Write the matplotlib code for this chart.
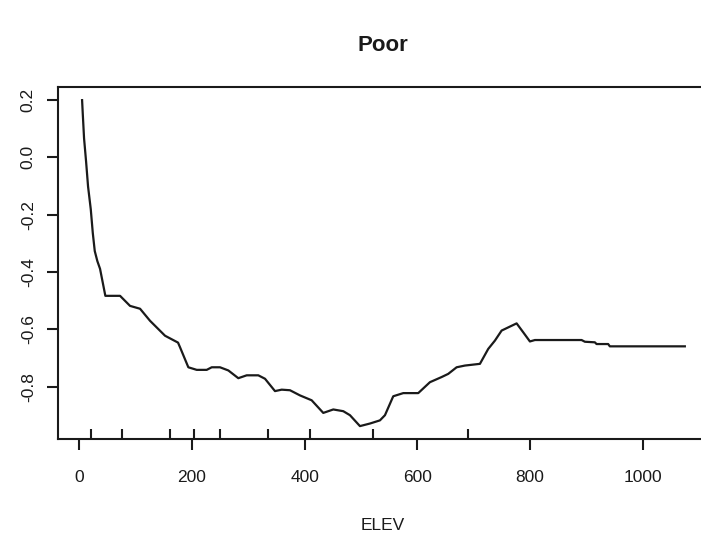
import matplotlib
matplotlib.use("Agg")
import matplotlib.pyplot as plt

plt.rcParams['font.family'] = ['Liberation Sans', 'DejaVu Sans']

# partial dependence of the "Poor" class on elevation
elev = [4.9, 6.1, 8.4, 12.0, 15.5, 20.3, 23.9, 27.4, 32.0, 36.8, 41.6, 46.2,
        72.3, 90.0, 107.8, 125.5, 152.1, 175.2, 178.7, 193.5, 208.4, 226.1,
        235.0, 249.7, 264.5, 282.2, 297.1, 317.7, 329.6, 347.3, 359.2, 373.9,
        391.7, 412.4, 433.0, 450.8, 468.5, 480.4, 498.1, 515.9, 533.6, 542.5,
        557.2, 575.0, 601.6, 622.3, 643.1, 654.8, 669.7, 684.4, 711.1, 725.8,
        737.7, 749.6, 761.3, 776.2, 787.9, 799.8, 808.7, 891.5, 897.4, 915.1,
        918.1, 938.7, 941.7, 1074.8]
effect = [0.199, 0.152, 0.066, -0.015, -0.102, -0.181, -0.264, -0.327, -0.362,
          -0.389, -0.437, -0.483, -0.483, -0.518, -0.528, -0.570, -0.622,
          -0.646, -0.662, -0.732, -0.741, -0.741, -0.732, -0.732, -0.743,
          -0.770, -0.760, -0.760, -0.772, -0.815, -0.810, -0.812, -0.830,
          -0.847, -0.891, -0.879, -0.885, -0.899, -0.937, -0.928, -0.917,
          -0.899, -0.833, -0.822, -0.822, -0.784, -0.766, -0.755, -0.732,
          -0.726, -0.720, -0.668, -0.639, -0.604, -0.593, -0.579, -0.610,
          -0.642, -0.637, -0.637, -0.643, -0.645, -0.651, -0.651, -0.659,
          -0.659]
# deciles of the observed elevations
rug = [20.3, 75.3, 161.0, 203.6, 249.7, 334.9, 409.4, 521.2, 689.8]

xticks = [0, 200, 400, 600, 800, 1000]
yticks = [0.2, 0.0, -0.2, -0.4, -0.6, -0.8]

ink = '#1a1a1a'
fig = plt.figure(figsize=(7.01, 5.40), dpi=100)
ax = fig.add_axes([0.0827, 0.187, 0.928, 0.652])

ax.plot(elev, effect, color=ink, lw=1.6)
ax.vlines(rug, 0, 0.029, color=ink, lw=1.5, transform=ax.get_xaxis_transform())

ax.set_xlim(-37.9, 1116.8)
ax.set_ylim(-0.982, 0.245)
ax.set_xticks(xticks)
ax.set_xticklabels([str(t) for t in xticks])
ax.set_yticks(yticks)
ax.set_yticklabels(['%.1f' % t for t in yticks], rotation=90, va='center')

for s in ax.spines.values():
    s.set_color(ink)
    s.set_linewidth(1.5)
ax.tick_params(axis='both', direction='out', length=8, width=1.5, color=ink,
               labelsize=12.5, labelcolor=ink)
ax.tick_params(axis='x', pad=14)
ax.tick_params(axis='y', pad=8)

ax.set_xlabel('ELEV', fontsize=12.5, color=ink, labelpad=24)
ax.set_title('Poor', fontsize=16, fontweight='bold', color=ink, pad=26)

fig.savefig('out.png', dpi=100)
